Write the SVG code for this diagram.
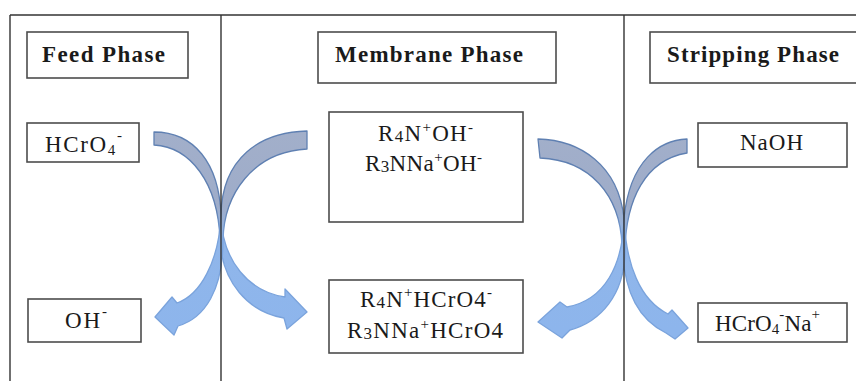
<svg xmlns="http://www.w3.org/2000/svg" width="856" height="381" viewBox="0 0 856 381">
<style>
.box{fill:#ffffff;stroke:#4d4d4d;stroke-width:1.6}
.frame{stroke:#333333;stroke-width:1.4;fill:none}
.t{font-family:"Liberation Serif","Times New Roman",serif;font-size:23px;fill:#1a1a1a}
.title{font-family:"Liberation Serif","Times New Roman",serif;font-size:23px;font-weight:bold;fill:#1a1a1a}
.s{font-size:15px}
.d{font-size:17px}
.arrow{fill:url(#ag);stroke:url(#as);stroke-width:1.3;stroke-linejoin:round}
</style>
<defs>
<linearGradient id="ag" gradientUnits="userSpaceOnUse" x1="0" y1="130" x2="0" y2="330">
<stop offset="0" stop-color="#a2afca"/>
<stop offset="0.38" stop-color="#9eacc9"/>
<stop offset="0.55" stop-color="#90b6ea"/>
<stop offset="1" stop-color="#8db5ec"/>
</linearGradient>
<linearGradient id="as" gradientUnits="userSpaceOnUse" x1="0" y1="130" x2="0" y2="330">
<stop offset="0" stop-color="#5f80b2"/>
<stop offset="0.4" stop-color="#5f80b2"/>
<stop offset="0.55" stop-color="#7aa3dc"/>
<stop offset="1" stop-color="#7aa3dc"/>
</linearGradient>
</defs>
<rect width="856" height="381" fill="#ffffff"/>

<g id="connectors">
<path class="arrow" d="M154,132 C194,132 219,163 221,215 C222,262 250,292 285,297 L285,289 L307,312 L287,329 L284,318 C248,312 222,282 220,240 C218,182 190,147 154,145 Z"/>
<path class="arrow" d="M307,131 C260,132 222,158 221,215 C219,262 200,295 177,303 L172,297 L155,317 L174,335 L178,326 C205,318 223,290 223,240 C224,195 252,152 307,149 Z"/>
<path class="arrow" d="M538,139 C580,140 618,165 624,218 C626,265 640,300 668,314 L672,310 L688,328 L675,339 L666,333 C640,320 624,295 622,245 C620,195 590,160 540,158 Z"/>
<path class="arrow" d="M687,139 C660,140 630,160 624,218 C623,265 605,300 567,307 L560,302 L538,322 L562,338 L570,330 C600,322 625,295 625,250 C626,200 645,160 687,153 Z"/>
</g>

<g id="frame">
<line class="frame" x1="10" y1="15" x2="856" y2="15"/>
<line class="frame" x1="10" y1="15" x2="10" y2="381"/>
<line class="frame" x1="221" y1="15" x2="221" y2="381"/>
<line class="frame" x1="624" y1="15" x2="624" y2="381"/>
</g>

<g id="feed-phase">
<rect class="box" x="27" y="32" width="161" height="46"/>
<text class="title" x="42" y="62" textLength="123">Feed Phase</text>
</g>

<g id="membrane-phase">
<rect class="box" x="318" y="32" width="238" height="51"/>
<text class="title" x="335" y="62" textLength="188">Membrane Phase</text>
</g>

<g id="stripping-phase">
<rect class="box" x="650" y="32" width="210" height="51"/>
<text class="title" x="667" y="62" textLength="172">Stripping Phase</text>
</g>

<g id="hcro4-feed">
<rect class="box" x="27" y="123" width="112" height="39"/>
<text class="t" x="45" y="152" textLength="77">HCrO<tspan class="s" y="155">4</tspan><tspan class="s" y="140">-</tspan></text>
</g>

<g id="membrane-carrier">
<rect class="box" x="329" y="112" width="194" height="110"/>
<text class="t" x="378" y="141" textLength="95">R<tspan class="d" y="142">4</tspan><tspan y="141">N</tspan><tspan class="s" y="132">+</tspan><tspan y="141">OH</tspan><tspan class="s" y="132">-</tspan></text>
<text class="t" x="365" y="171" textLength="117">R<tspan class="d" y="172">3</tspan><tspan y="171">NNa</tspan><tspan class="s" y="162">+</tspan><tspan y="171">OH</tspan><tspan class="s" y="162">-</tspan></text>
</g>

<g id="naoh">
<rect class="box" x="698" y="123" width="149" height="44"/>
<text class="t" x="740" y="150" textLength="63">NaOH</text>
</g>

<g id="oh-feed">
<rect class="box" x="28" y="299" width="113" height="43"/>
<text class="t" x="65" y="328" textLength="42">OH<tspan class="s" y="316">-</tspan></text>
</g>

<g id="membrane-complex">
<rect class="box" x="329" y="280" width="194" height="73"/>
<text class="t" x="360" y="307" textLength="132">R<tspan class="d" y="308">4</tspan><tspan y="307">N</tspan><tspan class="s" y="297">+</tspan><tspan y="307">HCrO4</tspan><tspan class="s" y="297">-</tspan></text>
<text class="t" x="347" y="338" textLength="156">R<tspan class="d" y="339">3</tspan><tspan y="338">NNa</tspan><tspan class="s" y="329">+</tspan><tspan y="338">HCrO4</tspan></text>
</g>

<g id="hcro4-na">
<rect class="box" x="698" y="303" width="149" height="39"/>
<text class="t" x="715" y="331" textLength="105">HCrO<tspan class="s" y="334">4</tspan><tspan class="s" y="319">-</tspan><tspan y="331">Na</tspan><tspan class="s" y="319">+</tspan></text>
</g>
</svg>
